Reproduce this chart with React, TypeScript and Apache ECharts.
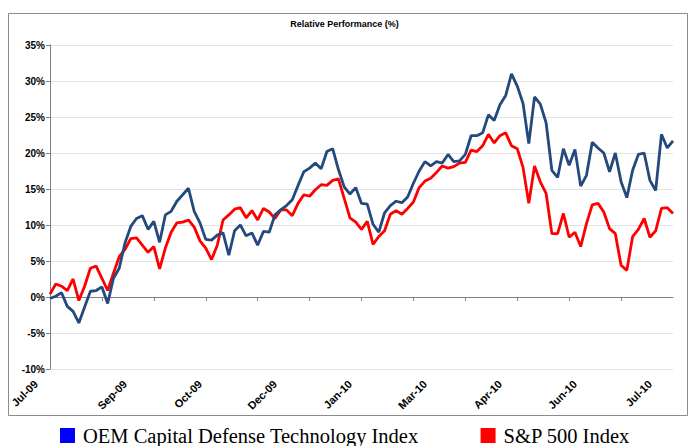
import React, { useEffect, useRef } from 'react';
import * as echarts from 'echarts';

const tickLabels = ['Jul-09', 'Sep-09', 'Oct-09', 'Dec-09', 'Jan-10', 'Mar-10', 'Apr-10', 'Jun-10', 'Jul-10'];

const oemIndex = [
  -0.2, 0.1, 0.6, -1.3, -2.0, -3.6, -1.4, 0.8, 0.9, 1.4,
  -0.9, 2.6, 4.0, 7.5, 9.8, 10.9, 11.3, 9.4, 10.5, 7.6,
  11.4, 11.9, 13.3, 14.2, 15.1, 11.9, 10.3, 8.0, 7.9, 8.6,
  8.9, 5.8, 9.2, 10.0, 8.5, 8.9, 7.2, 9.1, 9.0, 11.4,
  12.1, 12.7, 13.5, 15.5, 17.4, 17.9, 18.6, 17.8, 20.2, 20.6,
  17.7, 15.3, 14.3, 15.2, 13.0, 12.9, 10.1, 9.0, 11.7, 12.7,
  13.3, 13.1, 13.9, 15.8, 17.5, 18.8, 18.2, 18.8, 18.6, 19.8,
  18.8, 18.9, 19.8, 22.4, 22.4, 22.8, 25.3, 24.5, 26.7, 28.0,
  31.0, 29.3, 26.9, 21.3, 27.8, 26.8, 24.2, 17.6, 16.6, 20.6,
  18.3, 20.5, 15.4, 16.9, 21.5, 20.7, 20.0, 17.4, 20.0, 16.0,
  13.8, 17.6, 19.8, 20.0, 16.2, 14.8, 22.6, 20.7, 21.7,
];

const spIndex = [
  0.4, 1.8, 1.5, 0.9, 2.5, -0.5, 1.5, 4.0, 4.3, 2.6,
  0.9, 3.3, 5.6, 6.6, 8.1, 8.2, 7.2, 6.2, 7.0, 3.9,
  6.8, 9.0, 10.3, 10.4, 10.7, 9.7, 7.8, 6.8, 5.2, 7.2,
  10.7, 11.4, 12.2, 12.4, 11.0, 12.0, 10.7, 12.3, 11.8, 10.9,
  12.1, 12.1, 11.3, 13.0, 14.2, 14.0, 14.9, 15.6, 15.5, 16.2,
  16.4, 13.7, 11.0, 10.4, 9.4, 10.5, 7.3, 8.4, 9.2, 11.5,
  12.0, 11.5, 12.3, 13.2, 15.2, 16.1, 16.5, 17.3, 18.2, 17.9,
  18.1, 18.6, 18.7, 20.4, 20.2, 21.0, 22.6, 21.4, 22.4, 22.8,
  21.0, 20.6, 18.0, 13.0, 18.2, 16.0, 14.4, 8.8, 8.8, 11.6,
  8.3, 9.0, 7.0, 10.2, 12.8, 13.0, 11.8, 9.5, 8.8, 4.4,
  3.7, 8.4, 9.4, 10.9, 8.3, 9.2, 12.3, 12.4, 11.6,
];

const categories = oemIndex.map((_, i) => String(i));
const seriesNames = ['OEM Capital Defense Technology Index', 'S&P 500 Index'];

export default function App() {
  const ref = useRef<HTMLDivElement>(null);
  useEffect(() => {
    const chart = echarts.init(ref.current!, null, { renderer: 'svg' });
    const sans = 'Arial, "Liberation Sans", sans-serif';
    const labelFont = { fontFamily: sans, fontSize: 11, fontWeight: 'bold' as const, color: '#000' };
    chart.setOption({
      animation: false,
      backgroundColor: '#ffffff',
      title: {
        text: 'Relative Performance (%)',
        left: 'center',
        top: 14,
        textStyle: { fontFamily: sans, fontSize: 9, fontWeight: 'bold', color: '#000' },
      },
      graphic: [
        {
          type: 'rect',
          silent: true,
          z: -10,
          shape: { x: 8.5, y: 13.5, width: 679, height: 402 },
          style: { fill: 'none', stroke: '#8c8c8c', lineWidth: 1 },
        },
      ],
      legend: {
        data: [
          { name: seriesNames[0], itemStyle: { color: '#0000FF' } },
          { name: seriesNames[1], itemStyle: { color: '#FF0000' } },
        ],
        icon: 'rect',
        left: 60,
        top: 425,
        padding: 0,
        itemWidth: 15,
        itemHeight: 15,
        itemGap: 62,
        textStyle: {
          fontFamily: '"Liberation Serif", "Times New Roman", serif',
          fontSize: 20.5,
          lineHeight: 15,
          padding: [0, 0, 0, 3],
          color: '#000',
        },
      },
      grid: { left: 50, right: 16, top: 45, bottom: 77 },
      xAxis: [
        {
          type: 'category',
          data: categories,
          boundaryGap: false,
          axisLine: { onZero: true, lineStyle: { color: '#808080', width: 1 } },
          axisTick: {
            show: true,
            length: 4,
            interval: (i: number) => i % 9 === 0 && i < 108,
            lineStyle: { color: '#808080' },
          },
          axisLabel: { show: false },
          splitLine: { show: false },
        },
        {
          type: 'category',
          data: categories,
          boundaryGap: false,
          position: 'bottom',
          axisLine: { show: false, onZero: false },
          axisTick: { show: false },
          splitLine: { show: false },
          axisLabel: {
            interval: 12,
            rotate: 45,
            margin: 13,
            ...labelFont,
            formatter: (_v: string, i: number) => {
              const t = tickLabels[i / 13] ?? '';
              return i === 0 ? `{first|${t}}` : `{rest|${t}}`;
            },
            rich: {
              first: { ...labelFont, padding: [0, 10, 20, 0] },
              rest: { ...labelFont },
            },
          },
        },
      ],
      yAxis: {
        type: 'value',
        min: -10,
        max: 35,
        interval: 5,
        axisLine: { show: true, lineStyle: { color: '#808080' } },
        axisTick: { show: true, length: 4, lineStyle: { color: '#808080' } },
        axisLabel: {
          formatter: '{value}%',
          fontFamily: sans,
          fontSize: 10,
          fontWeight: 'bold',
          color: '#000',
          margin: 5,
        },
        splitLine: { lineStyle: { color: '#e2e2e2', width: 1 } },
      },
      series: [
        {
          name: seriesNames[1],
          type: 'line',
          data: spIndex,
          xAxisIndex: 0,
          showSymbol: false,
          symbol: 'none',
          lineStyle: { color: '#FF0000', width: 2.8 },
          itemStyle: { color: '#FF0000' },
          z: 2,
        },
        {
          name: seriesNames[0],
          type: 'line',
          data: oemIndex,
          xAxisIndex: 0,
          showSymbol: false,
          symbol: 'none',
          lineStyle: { color: '#23497d', width: 2.8 },
          itemStyle: { color: '#23497d' },
          z: 3,
        },
      ],
    });
    return () => chart.dispose();
  }, []);
  return (
    <div
      ref={ref}
      style={{ position: 'fixed', left: 0, top: 0, width: 689, height: 446, background: '#fff' }}
    />
  );
}
